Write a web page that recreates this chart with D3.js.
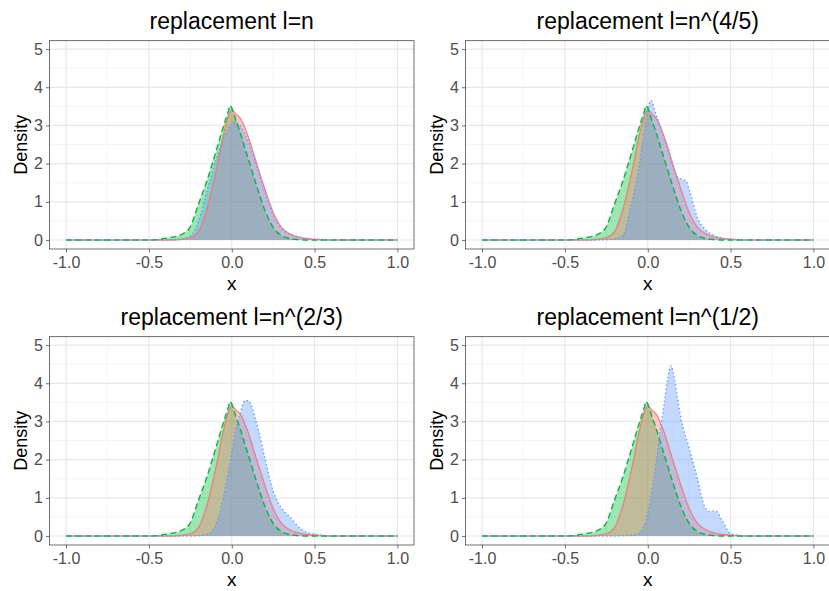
<!DOCTYPE html>
<html>
<head>
<meta charset="utf-8">
<script src="https://cdn.jsdelivr.net/npm/d3@7"></script>
<style>
  body { margin: 0; background: #fff; }
  svg { display: block; font-family: "Liberation Sans", Arial, sans-serif; }
</style>
</head>
<body>
<svg id="chart" width="829" height="591"></svg>
<script>
// panel titles
const titles = ['replacement l=n', 'replacement l=n^(4/5)', 'replacement l=n^(2/3)', 'replacement l=n^(1/2)'];

const xTicks = [-1, -0.5, 0, 0.5, 1];
const yTicks = [0, 1, 2, 3, 4, 5];

// red (solid) and green (dashed) curves are the same in every panel
const redCurve = [[-1, 0], [-0.35, 0], [-0.3, 0.02], [-0.25, 0.06], [-0.2, 0.22], [-0.15, 0.8], [-0.1, 1.7],
  [-0.05, 2.75], [-0.02, 3.25], [0, 3.4], [0.03, 3.28], [0.05, 3.2], [0.1, 2.7], [0.15, 2.0], [0.2, 1.33],
  [0.25, 0.72], [0.3, 0.33], [0.35, 0.16], [0.4, 0.08], [0.45, 0.04], [0.5, 0.02], [0.6, 0], [1, 0]];

const greenCurve = [[-1, 0], [-0.5, 0], [-0.45, 0.01], [-0.4, 0.05], [-0.35, 0.08], [-0.3, 0.15], [-0.25, 0.35],
  [-0.2, 0.95], [-0.15, 1.55], [-0.1, 2.25], [-0.05, 2.98], [-0.02, 3.38], [-0.01, 3.52], [0, 3.46],
  [0.02, 3.2], [0.05, 2.82], [0.1, 2.12], [0.15, 1.42], [0.2, 0.78], [0.25, 0.33], [0.3, 0.12],
  [0.35, 0.04], [0.4, 0.01], [0.45, 0], [1, 0]];

// blue (dotted) curve, one per panel
const blueN = [[-1, 0], [-0.4, 0], [-0.35, 0.01], [-0.3, 0.03], [-0.25, 0.1], [-0.2, 0.5], [-0.15, 1.27],
  [-0.1, 2.03], [-0.05, 2.65], [0, 3.05], [0.02, 3.1], [0.05, 3.0], [0.1, 2.58], [0.15, 1.93], [0.2, 1.27],
  [0.25, 0.66], [0.3, 0.3], [0.35, 0.15], [0.4, 0.08], [0.45, 0.03], [0.5, 0.01], [0.55, 0], [1, 0]];

const blueN45 = [[-1, 0], [-0.3, 0], [-0.25, 0.01], [-0.2, 0.03], [-0.15, 0.12], [-0.1, 0.92], [-0.05, 1.97],
  [-0.02, 2.9], [0, 3.4], [0.02, 3.65], [0.05, 3.28], [0.1, 2.65], [0.15, 1.95], [0.18, 1.65], [0.2, 1.6],
  [0.23, 1.55], [0.25, 1.32], [0.3, 0.58], [0.35, 0.26], [0.4, 0.12], [0.45, 0.05], [0.5, 0.02], [0.55, 0], [1, 0]];

const blueN23 = [[-1, 0], [-0.25, 0], [-0.2, 0.01], [-0.15, 0.05], [-0.1, 0.25], [-0.05, 1.03], [0, 2.18],
  [0.03, 2.9], [0.05, 3.2], [0.08, 3.55], [0.1, 3.54], [0.15, 2.95], [0.2, 2.04], [0.25, 1.17], [0.3, 0.73],
  [0.35, 0.5], [0.4, 0.25], [0.45, 0.1], [0.5, 0.05], [0.55, 0.02], [0.6, 0], [1, 0]];

const blueN12 = [[-1, 0], [-0.2, 0], [-0.15, 0.01], [-0.1, 0.02], [-0.05, 0.08], [0, 0.6], [0.03, 1.3],
  [0.05, 1.9], [0.08, 2.9], [0.1, 3.5], [0.12, 4.1], [0.14, 4.46], [0.16, 4.15], [0.18, 3.6], [0.2, 3.1],
  [0.25, 2.3], [0.3, 1.5], [0.34, 0.8], [0.37, 0.65], [0.41, 0.65], [0.45, 0.4], [0.5, 0.06], [0.55, 0.02],
  [0.6, 0], [1, 0]];

const blueCurves = [blueN, blueN45, blueN23, blueN12];

const colors = { red: '#F8766D', green: '#00BA38', blue: '#619CFF' };

const svg = d3.select('#chart');
const panelW = 416, panelH = 296;
const plot = { left: 49.5, right: 414, top: 40.7, bottom: 249 };

function drawPanel(i) {
  const ox = (i % 2) * panelW;
  const oy = Math.floor(i / 2) * panelH;
  const g = svg.append('g').attr('transform', `translate(${ox},${oy})`);

  const x = d3.scaleLinear().domain([-1.1, 1.1]).range([plot.left, plot.right]);
  const y = d3.scaleLinear().domain([-0.236, 5.22]).range([plot.bottom, plot.top]);

  const clipId = 'clip' + i;
  g.append('clipPath').attr('id', clipId)
    .append('rect')
    .attr('x', plot.left).attr('y', plot.top)
    .attr('width', plot.right - plot.left).attr('height', plot.bottom - plot.top);

  // grid
  const minorX = [-0.75, -0.25, 0.25, 0.75];
  const minorY = [0.5, 1.5, 2.5, 3.5, 4.5];
  const grid = g.append('g').attr('clip-path', `url(#${clipId})`);
  grid.selectAll('.mx').data(minorX).enter().append('line')
    .attr('x1', d => x(d)).attr('x2', d => x(d)).attr('y1', plot.top).attr('y2', plot.bottom)
    .attr('stroke', '#f0f0f0').attr('stroke-width', 0.7);
  grid.selectAll('.my').data(minorY).enter().append('line')
    .attr('y1', d => y(d)).attr('y2', d => y(d)).attr('x1', plot.left).attr('x2', plot.right)
    .attr('stroke', '#f0f0f0').attr('stroke-width', 0.7);
  grid.selectAll('.gx').data(xTicks).enter().append('line')
    .attr('x1', d => x(d)).attr('x2', d => x(d)).attr('y1', plot.top).attr('y2', plot.bottom)
    .attr('stroke', '#e8e8e8').attr('stroke-width', 1.2);
  grid.selectAll('.gy').data(yTicks).enter().append('line')
    .attr('y1', d => y(d)).attr('y2', d => y(d)).attr('x1', plot.left).attr('x2', plot.right)
    .attr('stroke', '#e8e8e8').attr('stroke-width', 1.2);

  // densities: fills first, then outlines on top
  const area = d3.area().x(d => x(d[0])).y0(y(0)).y1(d => y(d[1])).curve(d3.curveMonotoneX);
  const line = d3.line().x(d => x(d[0])).y(d => y(d[1])).curve(d3.curveMonotoneX);
  const red = { data: redCurve, color: colors.red, dash: null, op: 0.85 };
  const green = { data: greenCurve, color: colors.green, dash: '6,3.5', op: 1 };
  const blue = { data: blueCurves[i], color: colors.blue, dash: '1.4,2.6', op: 1 };
  const marks = g.append('g').attr('clip-path', `url(#${clipId})`);
  [green, red, blue].forEach(s => {
    marks.append('path').attr('d', area(s.data))
      .attr('fill', s.color).attr('fill-opacity', 0.38);
  });
  [red, green, blue].forEach(s => {
    marks.append('path').attr('d', line(s.data))
      .attr('fill', 'none').attr('stroke', s.color).attr('stroke-width', 1.4)
      .attr('stroke-opacity', s.op)
      .attr('stroke-dasharray', s.dash);
  });

  // border
  g.append('rect')
    .attr('x', plot.left).attr('y', plot.top)
    .attr('width', plot.right - plot.left).attr('height', plot.bottom - plot.top)
    .attr('fill', 'none').attr('stroke', '#333').attr('stroke-width', 0.7);

  // axes
  const xAxis = d3.axisBottom(x).tickValues(xTicks).tickSize(3.5).tickPadding(4);
  const ax = g.append('g').attr('transform', `translate(0,${plot.bottom})`).call(xAxis);
  const yAxis = d3.axisLeft(y).tickValues(yTicks).tickSize(3.5).tickPadding(3).tickFormat(d3.format('d'));
  const ay = g.append('g').attr('transform', `translate(${plot.left},0)`).call(yAxis);
  [ax, ay].forEach(a => {
    a.select('.domain').remove();
    a.selectAll('line').attr('stroke', '#333').attr('stroke-width', 0.7);
    a.selectAll('text').attr('fill', '#4d4d4d').style('font-size', '16px')
      .style('font-family', '"Liberation Sans", Arial, sans-serif');
  });
  ax.selectAll('text').text(d => d3.format('.1f')(d).replace('−', '-'));

  // titles
  g.append('text').attr('x', (plot.left + plot.right) / 2).attr('y', 29)
    .attr('text-anchor', 'middle').style('font-size', '23px').attr('fill', '#000')
    .text(titles[i]);
  g.append('text').attr('x', (plot.left + plot.right) / 2).attr('y', 290)
    .attr('text-anchor', 'middle').style('font-size', '19px').attr('fill', '#000')
    .text('x');
  g.append('text').attr('transform', `translate(27,${(plot.top + plot.bottom) / 2}) rotate(-90)`)
    .attr('text-anchor', 'middle').style('font-size', '18px').attr('fill', '#000')
    .text('Density');
}

[0, 1, 2, 3].forEach(drawPanel);
</script>
</body>
</html>
